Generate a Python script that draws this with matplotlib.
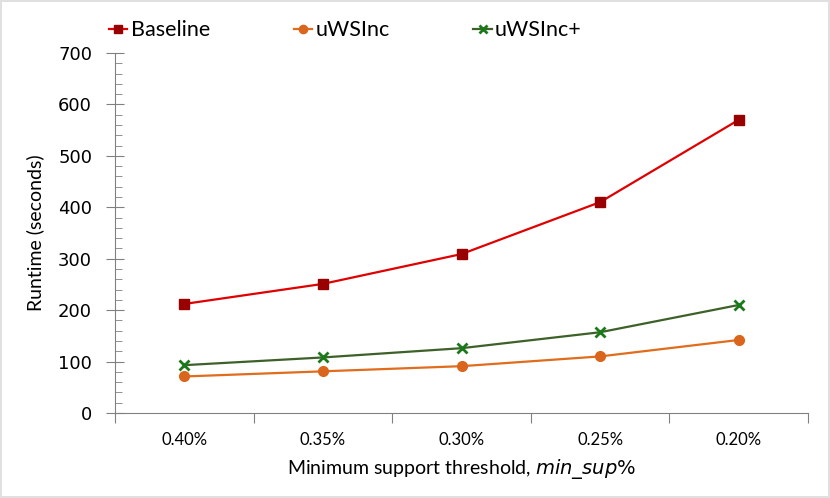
import numpy as np
import matplotlib.pyplot as plt
from matplotlib.ticker import MultipleLocator, FixedLocator

# data
thresholds = ['0.40%', '0.35%', '0.30%', '0.25%', '0.20%']
baseline = [212, 251, 309, 410, 570]
uwsinc = [71, 81, 91, 110, 142]
uwsinc_plus = [93, 108, 126, 157, 210]

fig = plt.figure(figsize=(8.3, 4.98), dpi=100)
fig.patch.set_edgecolor('#e0e0e0')
fig.patch.set_linewidth(1.5)
ax = fig.add_axes([0.1386, 0.1707, 0.835, 0.723])

x = np.arange(len(thresholds))
ax.plot(x, baseline, color='#e00000', lw=1.6, marker='s', ms=7,
        mfc='#990000', mec='#990000', label='Baseline')
ax.plot(x, uwsinc, color='#e06c1c', lw=1.6, marker='o', ms=7,
        mfc='#d9661c', mec='#d9661c', label='uWSInc')
ax.plot(x, uwsinc_plus, color='#3d6128', lw=1.6, marker='x', ms=7, mew=2,
        mfc='#1a7a1a', mec='#1a7a1a', label='uWSInc+')

ax.set_xlim(-0.5, len(thresholds) - 0.5)
ax.set_ylim(0, 700)
ax.yaxis.set_major_locator(MultipleLocator(100))
ax.yaxis.set_minor_locator(MultipleLocator(20))
ax.tick_params(axis='y', which='major', direction='inout', length=13,
               color='#808080', labelsize=13, pad=10)
ax.tick_params(axis='y', which='minor', direction='in', length=5, color='#808080')

# ticks between categories, labels under categories
ax.xaxis.set_major_locator(FixedLocator(np.arange(-0.5, len(thresholds), 1.0)))
ax.xaxis.set_minor_locator(FixedLocator(x))
ax.set_xticklabels([])
ax.set_xticklabels(thresholds, minor=True, family='Lato', fontsize=12)
ax.tick_params(axis='x', which='major', direction='out', length=7, color='#808080')
ax.tick_params(axis='x', which='minor', length=0, pad=14)

for s in ['top', 'right']:
    ax.spines[s].set_visible(False)
for s in ['left', 'bottom']:
    ax.spines[s].set_color('#808080')

ax.set_ylabel('Runtime (seconds)', family='Lato', fontsize=14, labelpad=10)
ax.set_xlabel('Minimum support threshold, $\\mathit{min\\_sup\\%}$',
              family='Lato', fontsize=14, labelpad=6)

fig.legend(loc='upper left', bbox_to_anchor=(0.108, 0.998), ncol=3, frameon=False,
           prop={'family': 'Lato', 'size': 15.5}, handlelength=0.85, handletextpad=0.15,
           columnspacing=3.9, markerscale=0.85)

fig.savefig('out.png', dpi=100)
